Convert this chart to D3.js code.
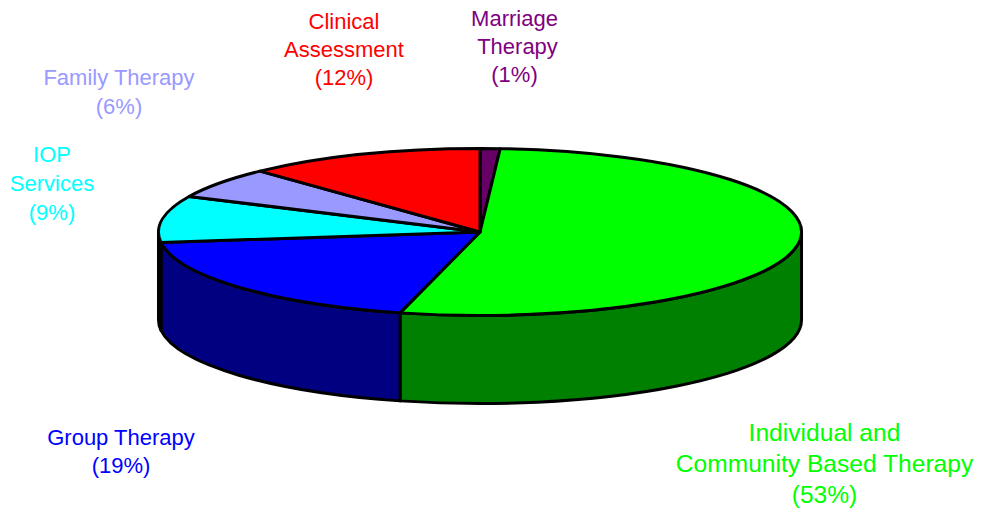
<!DOCTYPE html>
<html>
<head>
<meta charset="utf-8">
<script src="https://cdn.jsdelivr.net/npm/d3@7"></script>
<style>
html,body{margin:0;padding:0;background:#fff;}
svg{display:block;}
text{font-family:"Liberation Sans",Arial,sans-serif;}
</style>
</head>
<body>
<div id="chart"></div>
<script>
var categories=["Marriage Therapy","Individual and Community Based Therapy","Group Therapy","IOP Services","Family Therapy","Clinical Assessment"];
var values=[1,53,19,9,6,12];
var topColors=["#660066","#00ff00","#0000ff","#00ffff","#9999ff","#ff0000"];
var sideColors=["#400040","#008000","#000080","#008080","#4d4d80","#800000"];
var labelColors=["#800080","#00ff00","#0000ff","#00ffff","#9999ff","#ff0000"];
var labelLines=[["Marriage","Therapy","(1%)"],["Individual and","Community Based Therapy","(53%)"],["Group Therapy","(19%)"],["IOP","Services","(9%)"],["Family Therapy","(6%)"],["Clinical","Assessment","(12%)"]];
var labelPos=[[514.5,26],[824.5,441],[121,445],[52,162],[119,85],[344,29]];
var labelSize=[22,24.6,22,22,22,22];
var labelStep=[28,31,28,29,29,28];

var width=981,height=510;
var cx=480,cy=232,rx=321.5,ry=83.5,depth=88;

var svg=d3.select("#chart").append("svg").attr("width",width).attr("height",height);

var pie=d3.pie().sort(null).value(function(d){return d;}).startAngle(0).endAngle(2*Math.PI);
var slices=pie(values);

function px(a){return cx+rx*Math.sin(a);}
function py(a,dy){return cy-ry*Math.cos(a)+dy;}

// top of the pie, one wedge per slice
function wedge(d){
	var large=(d.endAngle-d.startAngle)>Math.PI?1:0;
	return "M"+cx+","+cy+"L"+px(d.startAngle)+","+py(d.startAngle,0)+
		"A"+rx+","+ry+" 0 "+large+" 1 "+px(d.endAngle)+","+py(d.endAngle,0)+"Z";
}

// wall of a slice, only the part facing the viewer (angle between 90 and 270 deg)
function wall(d){
	var a0=Math.max(d.startAngle,Math.PI/2),a1=Math.min(d.endAngle,3*Math.PI/2);
	if(a1<=a0) return null;
	return "M"+px(a0)+","+py(a0,0)+"A"+rx+","+ry+" 0 0 1 "+px(a1)+","+py(a1,0)+
		"L"+px(a1)+","+py(a1,depth)+"A"+rx+","+ry+" 0 0 0 "+px(a0)+","+py(a0,depth)+"Z";
}

svg.append("g").selectAll("path").data(slices.filter(function(d){return wall(d)!=null;})).enter().append("path")
	.attr("d",wall)
	.attr("fill",function(d){return sideColors[d.index];})
	.attr("stroke","black").attr("stroke-width",3).attr("stroke-linejoin","round");

svg.append("g").selectAll("path").data(slices).enter().append("path")
	.attr("d",wedge)
	.attr("fill",function(d){return topColors[d.index];})
	.attr("stroke","black").attr("stroke-width",3).attr("stroke-linejoin","round");

labelLines.forEach(function(lines,i){
	var t=svg.append("text").attr("text-anchor","middle").attr("fill",labelColors[i]).attr("font-size",labelSize[i]);
	lines.forEach(function(s,j){
		// "Therapy" sits a little right of the other two lines in the original
		var shift=(s=="Therapy")?3:0;
		t.append("tspan").attr("x",labelPos[i][0]+shift).attr("y",labelPos[i][1]+j*labelStep[i]).text(s);
	});
});
</script>
</body>
</html>
